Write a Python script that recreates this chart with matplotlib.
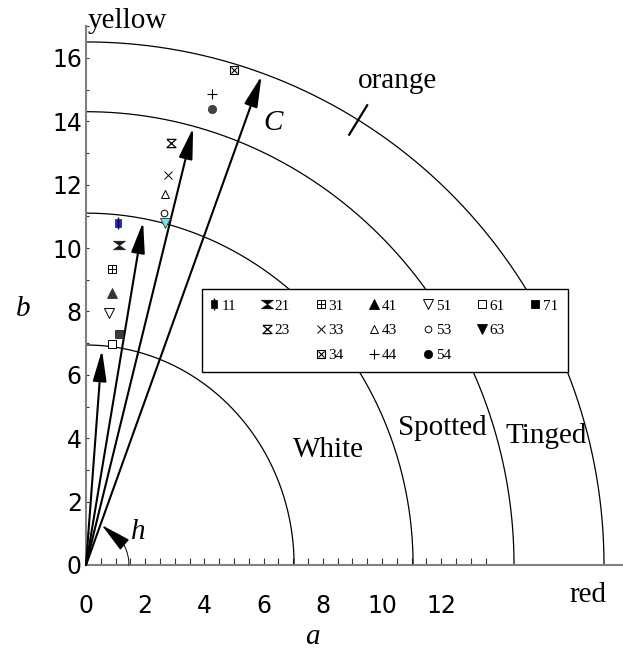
import numpy as np
import matplotlib
matplotlib.use("Agg")
import matplotlib.pyplot as plt
from matplotlib.lines import Line2D
from matplotlib.legend_handler import HandlerTuple

# Sample codes with their CIELAB coordinates (a*, b*)
codes = ["11", "21", "31", "41", "51", "61", "71",
         "23", "33", "43", "53", "63",
         "34", "44", "54"]
a_star = [1.08, 1.11, 0.88, 0.88, 0.78, 0.88, 1.11,
          2.87, 2.77, 2.67, 2.64, 2.67,
          5.00, 4.26, 4.26]
b_star = [10.80, 10.10, 9.34, 8.58, 7.95, 6.97, 7.29,
          13.30, 12.30, 11.70, 11.10, 10.80,
          15.60, 14.86, 14.40]

# Chroma vectors drawn from the origin
vec_a = [0.54, 1.93, 3.62, 5.93]
vec_b = [6.78, 10.82, 13.79, 15.43]

# Class boundaries (extent along a and along b)
bound_a = [7.03, 11.05, 14.46, 17.50]
bound_b = [6.94, 11.10, 14.30, 16.50]

# Class names and their anchor points
class_names = ["White", "Spotted", "Tinged"]
class_a = [8.20, 12.04, 15.54]
class_b = [3.41, 4.10, 3.85]

x_ticks = [0, 2, 4, 6, 8, 10, 12]
y_ticks = [0, 2, 4, 6, 8, 10, 12, 14, 16]

SERIF = "Liberation Serif"
SANS = "DejaVu Sans"

fig = plt.figure(figsize=(6.23, 6.56), dpi=100)
ax = fig.add_axes([0, 0, 1, 1])
ax.set_xlim(-86 / 29.6, (623 - 86) / 29.6)
ax.set_ylim((565 - 656) / 31.7, 565 / 31.7)

# axes through the origin
for side in ("top", "right"):
    ax.spines[side].set_visible(False)
ax.spines["left"].set_position(("data", 0))
ax.spines["bottom"].set_position(("data", 0))
ax.spines["left"].set_bounds(0, 17)
ax.spines["bottom"].set_bounds(0, 18.2)
for side in ("left", "bottom"):
    ax.spines[side].set_color("#808080")
    ax.spines[side].set_linewidth(1.5)

ax.set_xticks(x_ticks)
ax.set_xticklabels([str(v) for v in x_ticks])
ax.set_xticks(np.arange(0, 13.6, 0.5), minor=True)
ax.set_yticks(y_ticks)
ax.set_yticklabels([str(v) for v in y_ticks])
ax.set_yticks(np.arange(0, 17.1, 1), minor=True)
ax.tick_params(axis="x", which="both", direction="in", length=5, width=0.8,
               color="#333333", pad=21, labelsize=17)
ax.tick_params(axis="y", which="both", direction="in", length=2.5, width=0.8,
               color="#333333", pad=3, labelsize=17)
for lab in ax.get_xticklabels() + ax.get_yticklabels():
    lab.set_fontfamily(SANS)

# class boundaries
t = np.linspace(0, np.pi / 2, 300)
for ra, rb in zip(bound_a, bound_b):
    ax.plot(ra * np.cos(t), rb * np.sin(t), color="black", lw=0.9, zorder=2)

# small mark on the outer boundary
tm = np.deg2rad(58.3)
ax.plot([0.967 * bound_a[-1] * np.cos(tm), 1.033 * bound_a[-1] * np.cos(tm)],
        [0.967 * bound_b[-1] * np.sin(tm), 1.033 * bound_b[-1] * np.sin(tm)],
        color="black", lw=1.6, zorder=2)

# chroma arrows
for va_, vb_ in zip(vec_a, vec_b):
    ax.annotate("", xy=(va_, vb_), xytext=(0, 0),
                arrowprops=dict(arrowstyle="-|>,head_length=1.9,head_width=0.42",
                                mutation_scale=10, lw=1.5, color="black",
                                shrinkA=0, shrinkB=0), zorder=3)

# hue angle
th = np.linspace(0, np.deg2rad(30), 50)
ax.plot(1.45 * np.cos(th), 1.36 * np.sin(th), color="black", lw=0.7, zorder=3)
ax.annotate("", xy=(0.53, 1.26), xytext=(1.45 * np.cos(th[-1]), 1.36 * np.sin(th[-1])),
            arrowprops=dict(arrowstyle="-|>,head_length=1.9,head_width=0.42",
                            mutation_scale=10, lw=1.0, color="black",
                            shrinkA=0, shrinkB=0), zorder=3)

# marker shapes
hourglass = [(-1.4, 1), (1.4, 1), (-1.4, -1), (1.4, -1), (-1.4, 1)]
hourglass_n = [(-1.1, 1), (1.1, 1), (-1.1, -1), (1.1, -1), (-1.1, 1)]
tallrect = [(-0.6, -1), (0.6, -1), (0.6, 1), (-0.6, 1), (-0.6, -1)]

styles = {
    "11": [dict(marker=tallrect, ms=6.2, mfc="#1c1cff", mec="#1a1a60", mew=0.5),
           dict(marker="|", ms=8.5, mec="black", mew=1.0)],
    "21": [dict(marker=hourglass, ms=8.6, mfc="#1a1a1a", mec="#1a1a1a", mew=0.5)],
    "31": [dict(marker="s", ms=6.0, mfc="white", mec="black", mew=0.7),
           dict(marker="+", ms=6.0, mec="black", mew=0.7)],
    "41": [dict(marker="^", ms=6.5, mfc="#333333", mec="#333333", mew=0.6)],
    "51": [dict(marker="v", ms=7.0, mfc="white", mec="black", mew=0.7)],
    "61": [dict(marker="s", ms=5.2, mfc="white", mec="black", mew=0.7)],
    "71": [dict(marker="s", ms=5.4, mfc="#3a3a3a", mec="#222222", mew=0.6)],
    "23": [dict(marker=hourglass_n, ms=6.5, mfc="white", mec="black", mew=0.9)],
    "33": [dict(marker="x", ms=5.5, mec="black", mew=0.7)],
    "43": [dict(marker="^", ms=6.0, mfc="white", mec="black", mew=0.7)],
    "53": [dict(marker="o", ms=4.8, mfc="white", mec="black", mew=0.7)],
    "63": [dict(marker="v", ms=6.8, mfc="#6fe3ec", mec="#333333", mew=0.6)],
    "34": [dict(marker="s", ms=6.0, mfc="white", mec="black", mew=0.8),
           dict(marker="x", ms=5.0, mec="black", mew=0.8)],
    "44": [dict(marker="+", ms=6.5, mec="black", mew=0.8)],
    "54": [dict(marker="o", ms=6.0, mfc="#444444", mec="#333333", mew=0.5)],
}

for code, a, b in zip(codes, a_star, b_star):
    for st in styles[code]:
        ax.plot([a], [b], linestyle="none", zorder=4, **st)

# legend handles (black glyphs)
def legend_handle(code):
    parts = []
    for st in styles[code]:
        st = dict(st)
        if st.get("mfc") not in (None, "white"):
            st["mfc"] = "black"
            st["mec"] = "black"
        parts.append(Line2D([], [], linestyle="none", **st))
    return tuple(parts)

blank = Line2D([], [], linestyle="none")
grid = [["11", None, None], ["21", "23", None], ["31", "33", "34"],
        ["41", "43", "44"], ["51", "53", "54"], ["61", "63", None],
        ["71", None, None]]
handles, labels = [], []
for col in grid:
    for code in col:
        if code is None:
            handles.append(blank)
            labels.append("")
        else:
            handles.append(legend_handle(code))
            labels.append(code)

leg = ax.legend(handles, labels, ncols=7, loc="upper left",
                bbox_to_anchor=(202 / 623, 1 - 289 / 656),
                bbox_transform=fig.transFigure, borderaxespad=0,
                prop={"family": SERIF, "size": 11},
                handlelength=0.3, handletextpad=0.35, columnspacing=1.86,
                labelspacing=0.72, borderpad=0.65, fancybox=False,
                framealpha=1, edgecolor="black",
                handler_map={tuple: HandlerTuple(ndivide=1)})
leg.get_frame().set_linewidth(1.0)
leg.set_zorder(6)

# text annotations
txt = dict(family=SERIF, fontsize=21, color="black")
ax.text(0.07, 16.94, "yellow", ha="left", va="baseline", **txt)
ax.text(10.54, 15.05, "orange", ha="center", va="baseline", **txt)
ax.text(16.96, -0.95, "red", ha="center", va="center", **txt)
ax.text(6.32, 13.94, "C", ha="center", va="center", style="italic", **txt)
ax.text(1.77, 1.04, "h", ha="center", va="center", style="italic", **txt)
for name, ca, cb in zip(class_names, class_a, class_b):
    ax.text(ca, cb, name, ha="center", va="baseline", **txt)

ax.set_xlabel("a", family=SERIF, fontsize=21, style="italic")
ax.xaxis.set_label_coords(312 / 623, 1 - 637 / 656)
ax.xaxis.label.set_va("center")
ax.set_ylabel("b", family=SERIF, fontsize=21, style="italic", rotation=0)
ax.yaxis.set_label_coords(23 / 623, 1 - 309 / 656)
ax.yaxis.label.set_va("center")
ax.yaxis.label.set_ha("center")

fig.savefig("out.png", dpi=100)
